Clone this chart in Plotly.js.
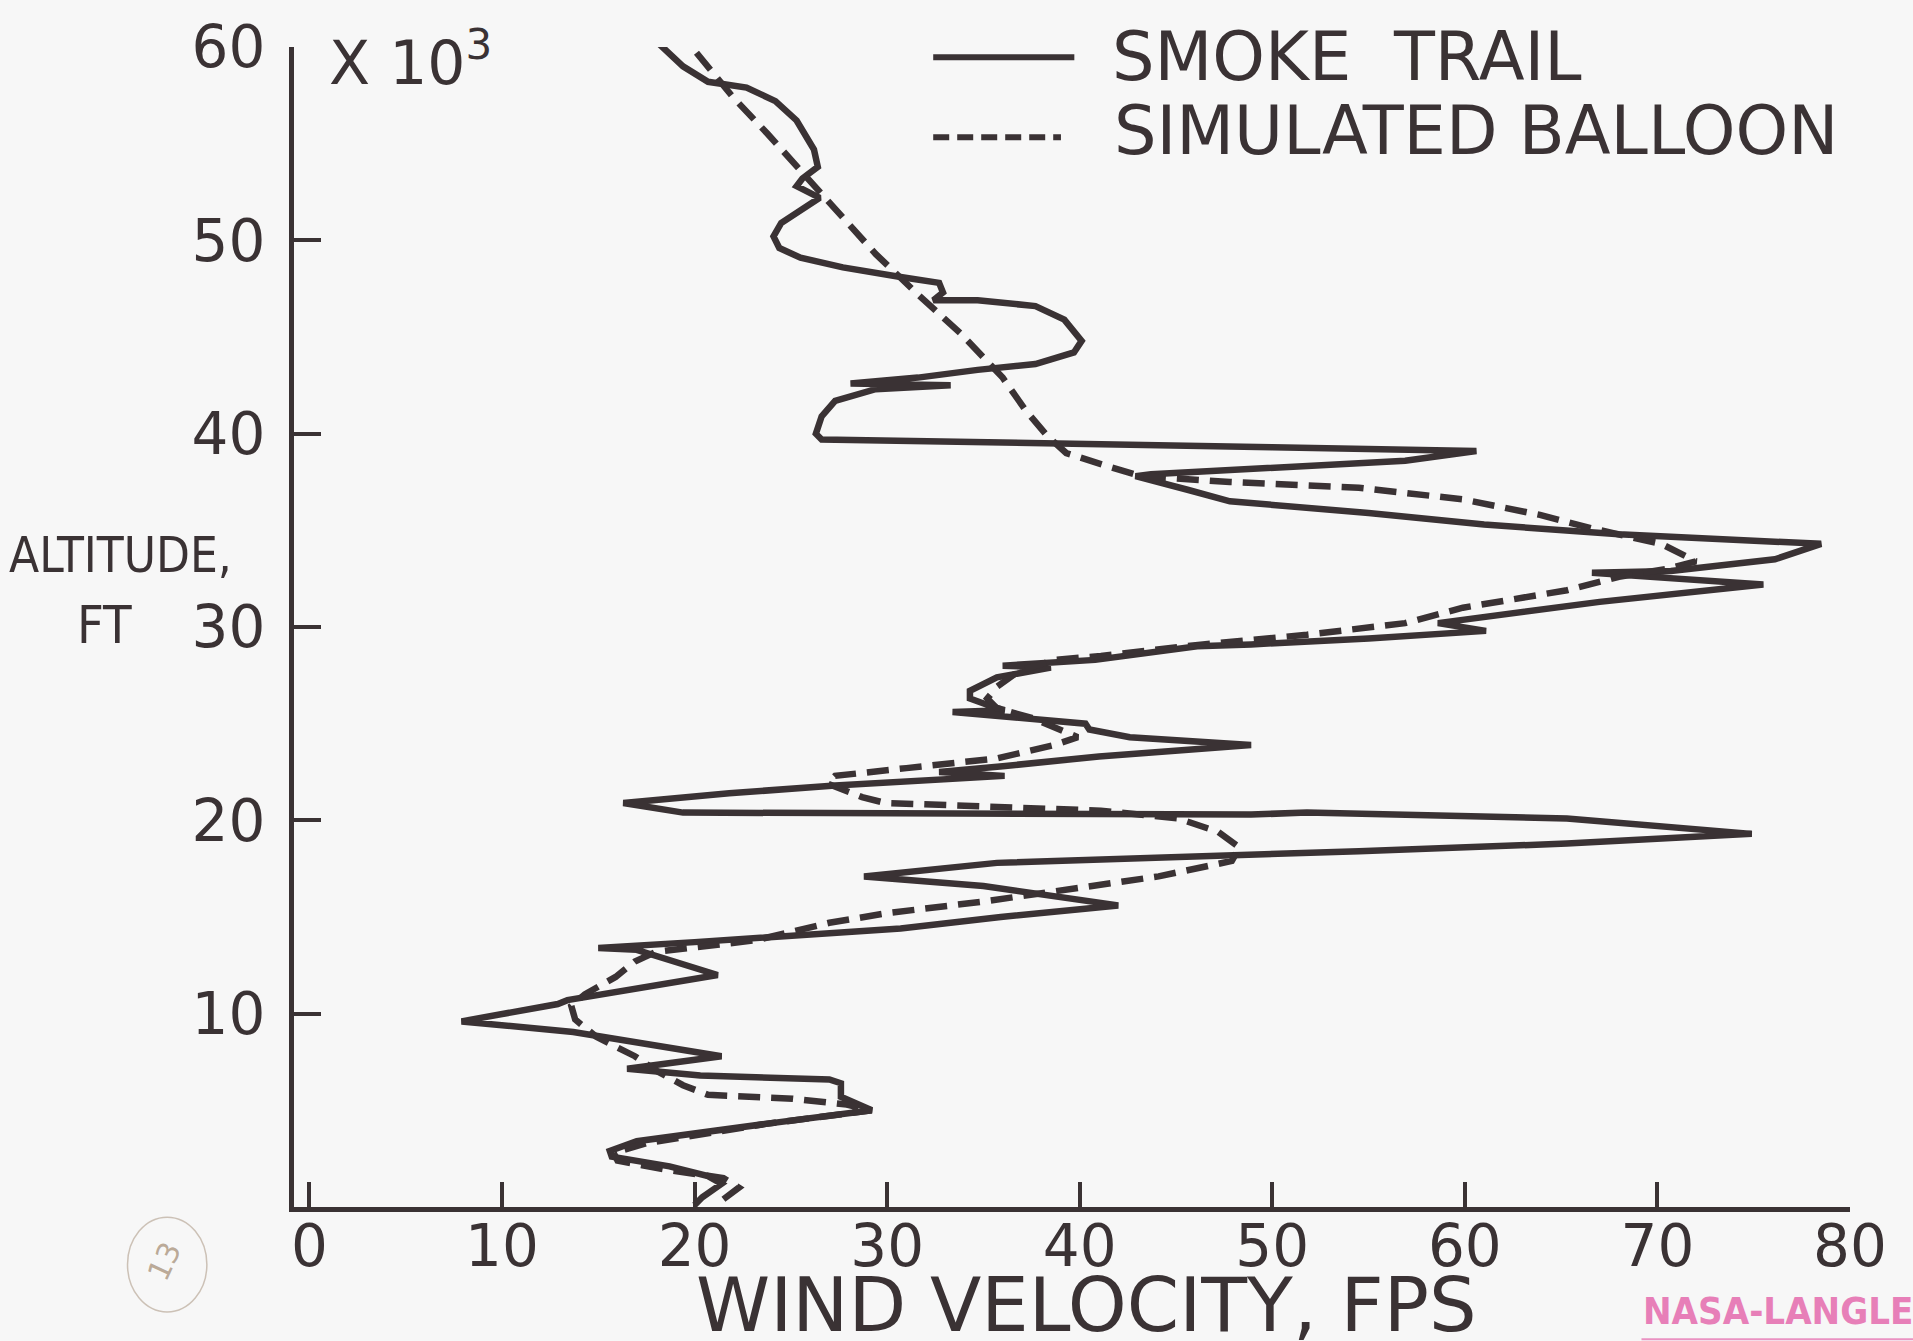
<!DOCTYPE html>
<html>
<head>
<meta charset="utf-8">
<script src="https://cdn.plot.ly/plotly-3.0.1.min.js"></script>
<style>
  html, body { margin: 0; padding: 0; background: #f7f7f7; }
  #chart { width: 1913px; height: 1341px; }
</style>
</head>
<body>
<div id="chart"></div>
<script>
// ---- Data (wind velocity in fps, altitude in thousands of ft) ----
const smokeVel = [17.9,19.4,20.7,22.7,24.2,25.3,26.2,26.4,25.6,25.3,26.5,24.5,24.1,24.4,25.5,27.7,30.7,32.7,32.9,32.4,34.7,37.7,39.2,40.1,39.7,37.7,34.7,31.6,28.1,33.3,29.4,27.3,26.6,26.3,26.6,40.0,50.0,60.6,56.9,43.7,42.9,45.6,47.8,55.0,61.0,68.0,73.0,78.5,76.1,70.7,66.6,75.5,67.0,58.6,61.1,55.0,48.9,46.1,40.8,36.0,38.5,35.7,34.3,34.3,35.4,36.1,33.4,36.8,40.3,40.5,42.6,48.9,41.0,36.0,32.7,36.1,32.5,27.3,21.8,16.3,19.4,35.7,48.9,51.8,65.3,74.9,65.3,54.5,48.3,41.1,35.7,28.8,35.0,42.0,35.9,30.7,25.0,20.0,15.0,17.0,21.2,13.4,12.9,7.9,13.7,21.4,16.5,20.3,27.0,27.6,27.6,29.2,23.7,17.0,15.6,15.7,18.7,20.7,21.4,20.4,20.0];
const smokeAlt = [60.4,59.0,58.2,57.9,57.2,56.2,54.7,53.8,53.2,52.8,52.2,50.9,50.2,49.6,49.1,48.6,48.1,47.8,47.3,46.9,46.9,46.6,45.9,44.8,44.2,43.6,43.3,42.9,42.6,42.5,42.3,41.7,40.9,40.0,39.7,39.5,39.3,39.1,38.6,37.9,37.8,37.1,36.5,35.9,35.3,34.8,34.6,34.3,33.5,32.9,32.8,32.2,31.3,30.2,29.8,29.4,29.1,29.0,28.3,28.0,27.9,27.4,26.7,26.3,25.9,25.7,25.6,25.3,25.0,24.7,24.3,23.9,23.3,22.8,22.5,22.3,22.1,21.8,21.4,20.9,20.4,20.3,20.3,20.4,20.1,19.3,18.8,18.4,18.2,17.9,17.8,17.1,16.6,15.6,15.0,14.4,14.0,13.7,13.4,13.3,12.0,10.7,10.5,9.6,9.05,7.8,7.15,6.8,6.6,6.4,5.7,5.0,4.3,3.4,2.9,2.6,2.1,1.6,1.2,0.5,0.1];

const balloonVel = [20.1,22.0,23.8,25.5,27.3,29.4,31.6,33.8,36.0,37.2,38.3,39.3,41.5,43.2,47.8,54.5,59.9,63.9,66.6,70.2,72.0,70.5,68.0,65.3,59.9,56.9,51.8,46.4,41.1,38.7,36.8,35.7,35.2,35.7,37.5,39.2,39.9,38.7,35.7,31.0,27.3,26.9,28.7,29.9,35.7,41.1,45.1,47.2,48.3,47.9,44.1,39.5,35.0,30.0,27.0,23.2,18.0,16.9,15.9,14.3,13.6,13.8,14.9,16.9,18.1,19.4,20.7,25.1,27.9,29.2,23.7,17.5,15.8,16.0,18.7,21.5,22.3,21.5];
const balloonAlt = [59.7,57.4,55.5,53.6,51.7,49.3,47.2,45.2,42.9,41.2,39.9,39.0,38.3,37.8,37.5,37.2,36.6,35.8,35.1,34.3,33.4,33.0,32.6,31.9,31.0,30.2,29.6,29.1,28.5,28.3,27.7,26.9,26.3,25.8,25.3,24.6,24.3,23.9,23.2,22.7,22.3,21.9,21.2,20.9,20.7,20.5,20.1,19.4,18.6,17.9,17.1,16.4,15.8,15.2,14.7,13.8,13.2,12.7,11.9,11.0,10.4,9.7,8.8,7.8,7.0,6.3,5.8,5.6,5.3,5.0,4.3,3.3,2.8,2.4,1.9,1.5,1.0,0.4];

const xTicks = [0,10,20,30,40,50,60,70,80];
const yTicks = [10,20,30,40,50,60];
const seriesNames = ["SMOKE TRAIL", "SIMULATED BALLOON"];

// ---- Styling ----
const ink = "#3a3234";
const font = "DejaVu Sans, Liberation Sans, sans-serif";
const condFont = "DejaVu Sans Condensed, Liberation Sans Narrow, DejaVu Sans, sans-serif";

const traces = [
  { x: smokeVel, y: smokeAlt, name: seriesNames[0], mode: "lines",
    line: { color: ink, width: 6.5 }, hoverinfo: "skip" },
  { x: balloonVel, y: balloonAlt, name: seriesNames[1], mode: "lines",
    line: { color: ink, width: 6.5, dash: "22px,11px" }, hoverinfo: "skip" }
];

const layout = {
  width: 1913, height: 1341,
  paper_bgcolor: "#f7f7f7", plot_bgcolor: "#f7f7f7",
  margin: { l: 294, r: 63, t: 47, b: 134 },
  showlegend: false,
  xaxis: {
    range: [-0.8, 80], tickvals: xTicks, ticktext: xTicks.map(String),
    showgrid: false, zeroline: false, showline: true, linecolor: ink, linewidth: 5,
    ticks: "inside", ticklen: 25, tickwidth: 4, tickcolor: ink,
    tickfont: { family: font, size: 58, color: ink }, ticklabelstandoff: -16
  },
  yaxis: {
    range: [0, 60], tickvals: yTicks, ticktext: yTicks.map(String),
    showgrid: false, zeroline: false, showline: true, linecolor: ink, linewidth: 5,
    ticks: "inside", ticklen: 27, tickwidth: 4, tickcolor: ink,
    tickfont: { family: font, size: 58, color: ink }, ticklabelstandoff: 12
  },
  shapes: [
    { type: "line", xref: "paper", yref: "paper", x0: 0.4108, x1: 0.5015, y0: 0.9911, y1: 0.9911,
      line: { color: ink, width: 6 } },
    { type: "line", xref: "paper", yref: "paper", x0: 0.4108, x1: 0.4929, y0: 0.9222, y1: 0.9222,
      line: { color: ink, width: 6, dash: "16px,8px" } },
    { type: "circle", xref: "paper", yref: "paper", x0: -0.107, x1: -0.056, y0: -0.0088, y1: -0.0905,
      line: { color: "rgba(170,150,130,0.55)", width: 1.5 } },
    { type: "line", xref: "paper", yref: "paper", x0: 0.866, x1: 1.05, y0: -0.114, y1: -0.114,
      line: { color: "rgba(230,120,180,0.8)", width: 2 } }
  ],
  annotations: [
    { xref: "paper", yref: "paper", x: 0.0211, y: 0.99, xanchor: "left", yanchor: "middle",
      text: "X 10<sup>3</sup>", showarrow: false, font: { family: font, size: 60, color: ink } },
    { xref: "paper", yref: "paper", x: -0.1114, y: 0.5618, xanchor: "center", yanchor: "middle",
      text: "ALTITUDE,", showarrow: false, font: { family: condFont, size: 49, color: ink } },
    { xref: "paper", yref: "paper", x: -0.1218, y: 0.5014, xanchor: "center", yanchor: "middle",
      text: "FT", showarrow: false, font: { family: condFont, size: 52, color: ink } },
    { xref: "paper", yref: "paper", x: 0.509, y: -0.0848, xanchor: "center", yanchor: "middle",
      text: "WIND VELOCITY, FPS", showarrow: false, font: { family: font, size: 75, color: ink } },
    { xref: "paper", yref: "paper", x: 0.5245, y: 0.9911, xanchor: "left", yanchor: "middle",
      text: "SMOKE&nbsp; TRAIL", showarrow: false, font: { family: font, size: 67, color: ink } },
    { xref: "paper", yref: "paper", x: 0.5258, y: 0.9274, xanchor: "left", yanchor: "middle",
      text: "SIMULATED BALLOON", showarrow: false, font: { family: font, size: 67, color: ink } },
    { xref: "paper", yref: "paper", x: 0.866, y: -0.0893, xanchor: "left", yanchor: "middle",
      text: "<b>NASA-LANGLEY</b>", showarrow: false, font: { family: condFont, size: 38, color: "#e77fb8" } },
    { xref: "paper", yref: "paper", x: -0.0832, y: -0.0474, xanchor: "center", yanchor: "middle",
      text: "13", textangle: -65, showarrow: false, font: { family: font, size: 30, color: "rgba(160,135,110,0.7)" } }
  ]
};

Plotly.newPlot("chart", traces, layout, { staticPlot: true, displayModeBar: false });
</script>
</body>
</html>
